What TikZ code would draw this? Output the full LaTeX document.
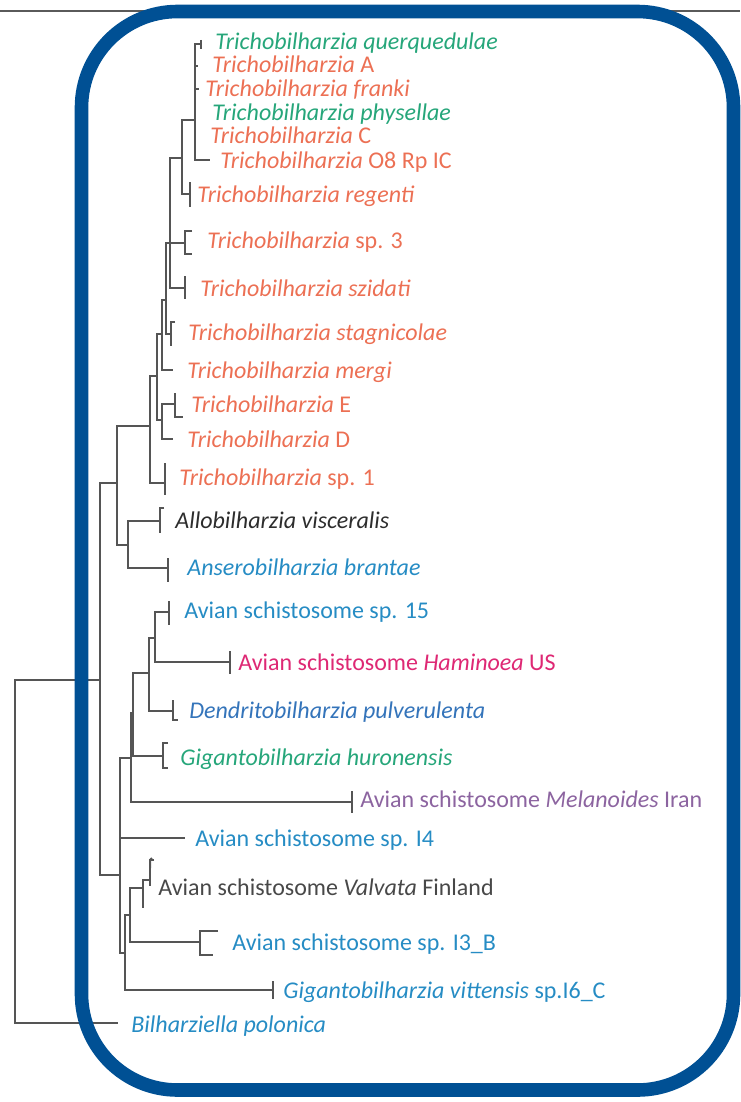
\documentclass[tikz,border=0pt]{standalone}
\usepackage{fontspec}
\setmainfont{Carlito}
\definecolor{trigreen}{RGB}{38,166,122}
\definecolor{triorange}{RGB}{236,112,84}
\definecolor{avblue}{RGB}{38,140,196}
\definecolor{dendblue}{RGB}{52,116,186}
\definecolor{hampink}{RGB}{222,40,116}
\definecolor{melpurple}{RGB}{140,100,160}
\definecolor{allodark}{RGB}{45,45,45}
\definecolor{valgrey}{RGB}{72,72,72}
\definecolor{treegrey}{RGB}{85,85,85}
\definecolor{rulegrey}{RGB}{90,90,90}
\definecolor{boxblue}{RGB}{0,80,148}
\begin{document}
\begin{tikzpicture}[x=0.5pt, y=-0.5pt,
    branch/.style={draw=treegrey, line width=1pt},
    taxon/.style={anchor=base west, inner sep=0pt, font=\fontsize{12}{14}\selectfont},
    frame/.style={draw=boxblue, line width=6.8pt, rounded corners=48pt}]
    \useasboundingbox (0,0) rectangle (740,1102);

    % top rule
    \coordinate (rl) at (0,11);
    \coordinate (rr) at (740,11);
    \draw[rulegrey, line width=0.6pt] (rl) -- (rr);

    % Trichobilharzia
    \node[taxon, trigreen] (querq) at (215,50) {\textit{Trichobilharzia querquedulae}};
    \node[taxon, triorange] (tA) at (212,73) {\textit{Trichobilharzia} A};
    \node[taxon, triorange] (franki) at (205,97) {\textit{Trichobilharzia franki}};
    \node[taxon, trigreen] (physel) at (212,120) {\textit{Trichobilharzia physellae}};
    \node[taxon, triorange] (tC) at (210,143) {\textit{Trichobilharzia} C};
    \node[taxon, triorange] (o8) at (220,168) {\textit{Trichobilharzia} O8 Rp IC};
    \node[taxon, triorange] (regenti) at (197,202) {\textit{Trichobilharzia regenti}};
    \node[taxon, triorange] (sp3) at (207,248) {\textit{Trichobilharzia} sp. 3};
    \node[taxon, triorange] (szidati) at (200,296) {\textit{Trichobilharzia szidati}};
    \node[taxon, triorange] (stagn) at (188,340) {\textit{Trichobilharzia stagnicolae}};
    \node[taxon, triorange] (mergi) at (187,378) {\textit{Trichobilharzia mergi}};
    \node[taxon, triorange] (tE) at (191,412) {\textit{Trichobilharzia} E};
    \node[taxon, triorange] (tD) at (187,447) {\textit{Trichobilharzia} D};
    \node[taxon, triorange] (sp1) at (179,485) {\textit{Trichobilharzia} sp. 1};
    \node[taxon, allodark] (allo) at (175,528) {\textit{Allobilharzia visceralis}};
    \node[taxon, avblue] (anser) at (187,575) {\textit{Anserobilharzia brantae}};

    % avian schistosomes
    \node[taxon, avblue] (sp15) at (184,618) {Avian schistosome sp. 15};
    \node[taxon, hampink] (hamin) at (238,670) {Avian schistosome \textit{Haminoea} US};
    \node[taxon, dendblue] (dendr) at (189,718) {\textit{Dendritobilharzia pulverulenta}};
    \node[taxon, trigreen] (huron) at (180,765) {\textit{Gigantobilharzia huronensis}};
    \node[taxon, melpurple] (melan) at (360,807) {Avian schistosome \textit{Melanoides} Iran};
    \node[taxon, avblue] (i4) at (195,846) {Avian schistosome sp. I4};
    \node[taxon, valgrey] (valv) at (158,895) {Avian schistosome \textit{Valvata} Finland};
    \node[taxon, avblue] (i3b) at (232,950) {Avian schistosome sp. I3\_B};
    \node[taxon, avblue] (vitt) at (283,998) {\textit{Gigantobilharzia vittensis} sp.I6\_C};
    \node[taxon, avblue] (bilh) at (131,1032) {\textit{Bilharziella polonica}};

    % branch ends
    \coordinate (e-querq) at (201,44);
    \coordinate (e-A) at (198,66);
    \coordinate (e-franki) at (199,89);
    \coordinate (e-o8) at (210,160);
    \coordinate (e-regenti) at (190,194);
    \coordinate (e-sp3) at (185,243);
    \coordinate (e-szid) at (185,288);
    \coordinate (e-stag) at (171,334);
    \coordinate (e-mergi) at (173,370);
    \coordinate (e-E) at (175,404);
    \coordinate (e-D) at (173,439);
    \coordinate (e-sp1) at (165,483);
    \coordinate (e-allo) at (160,521);
    \coordinate (e-anser) at (168,568);
    \coordinate (e-sp15) at (169,612);
    \coordinate (e-ham) at (230,662);
    \coordinate (e-dend) at (173,711);
    \coordinate (e-huron) at (163,756);
    \coordinate (e-mel) at (352,802);
    \coordinate (e-i4) at (185,838);
    \coordinate (e-v1) at (154,860);
    \coordinate (e-v2) at (151,885);
    \coordinate (e-v3) at (144,907);
    \coordinate (e-i3b) at (200,942);
    \coordinate (e-vitt) at (273,990);
    \coordinate (e-bilh) at (118,1023);

    % inner nodes
    \coordinate (y1) at (195,120);
    \coordinate (x1) at (182,158);
    \coordinate (w) at (170,243);
    \coordinate (v) at (166,300);
    \coordinate (u) at (162,334);
    \coordinate (lo) at (162,420);
    \coordinate (t1) at (157,376);
    \coordinate (tri) at (150,426);
    \coordinate (aa) at (128,545);
    \coordinate (taa) at (117,483);
    \coordinate (m4) at (155,638);
    \coordinate (m3) at (149,673);
    \coordinate (m2) at (133,713);
    \coordinate (m1) at (131,758);
    \coordinate (b4) at (150,880);
    \coordinate (b3) at (143,888);
    \coordinate (b2) at (130,915);
    \coordinate (b1) at (125,953);
    \coordinate (av) at (120,875);
    \coordinate (ingr) at (100,680);
    \coordinate (root) at (15,850);

    % tree
    \draw[branch] (e-querq) -| (y1) |- (e-o8);
    \draw[branch] (y1) |- (e-A);
    \draw[branch] (y1) |- (e-franki);
    \draw[branch] (y1) -| (x1) |- (e-regenti);
    \draw[branch] (x1) -| (w) |- (e-szid);
    \draw[branch] (w) -- (e-sp3);
    \draw[branch] (w) -| (v) |- (e-stag);
    \draw[branch] (v) -| (u) |- (e-mergi);
    \draw[branch] (e-E) -| (lo) |- (e-D);
    \draw[branch] (u) -| (t1) |- (lo);
    \draw[branch] (t1) -| (tri) |- (e-sp1);
    \draw[branch] (e-allo) -| (aa) |- (e-anser);
    \draw[branch] (tri) -| (taa) |- (aa);
    \draw[branch] (e-sp15) -| (m4) |- (e-ham);
    \draw[branch] (m4) -| (m3) |- (e-dend);
    \draw[branch] (m3) -| (m2) |- (e-huron);
    \draw[branch] (m2) -| (m1) |- (e-mel);
    \draw[branch] (e-v1) -| (b4) |- (e-v2);
    \draw[branch] (b4) -| (b3) |- (e-v3);
    \draw[branch] (b3) -| (b2) |- (e-i3b);
    \draw[branch] (b2) -| (b1) |- (e-vitt);
    \draw[branch] (m1) -| (av) |- (b1);
    \draw[branch] (av) |- (e-i4);
    \draw[branch] (taa) -| (ingr) |- (av);
    \draw[branch] (ingr) -| (root) |- (e-bilh);

    % ticks at the tips
    \draw[branch] (e-querq) ++(0,-4) -- ++(0,9);
    \draw[branch] (e-regenti) ++(0,-12) -- ++(0,25);
    \draw[branch] (e-sp3) ++(7,-12) -- ++(-7,0) -- ++(0,23) -- ++(7,0);
    \draw[branch] (e-szid) ++(0,-12) -- ++(0,23);
    \draw[branch] (e-stag) ++(4,-12) -- ++(-4,0) -- ++(0,24);
    \draw[branch] (e-E) ++(0,-11) -- ++(0,24) -- ++(8,0);
    \draw[branch] (e-sp1) ++(0,-20) -- ++(0,32);
    \draw[branch] (e-allo) ++(4,-13) -- ++(-4,0) -- ++(0,25);
    \draw[branch] (e-anser) ++(0,-10) -- ++(0,24);
    \draw[branch] (e-sp15) ++(0,-11) -- ++(0,24);
    \draw[branch] (e-ham) ++(0,-11) -- ++(0,23);
    \draw[branch] (e-dend) ++(0,-11) -- ++(0,20) -- ++(5,0);
    \draw[branch] (e-huron) ++(5,-13) -- ++(-5,0) -- ++(0,25) -- ++(5,0);
    \draw[branch] (e-mel) ++(0,-11) -- ++(0,22);
    \draw[branch] (e-v1) ++(-4,8) -- ++(0,-8) -- ++(2,-2);
    \draw[branch] (e-i3b) ++(18,-11) -- ++(-18,0) -- ++(0,24) -- ++(13,0);
    \draw[branch] (e-vitt) ++(0,-9) -- ++(0,18);

    % frame
    \draw[frame] (81.5,11.5) rectangle (733.5,1090);
\end{tikzpicture}
\end{document}
